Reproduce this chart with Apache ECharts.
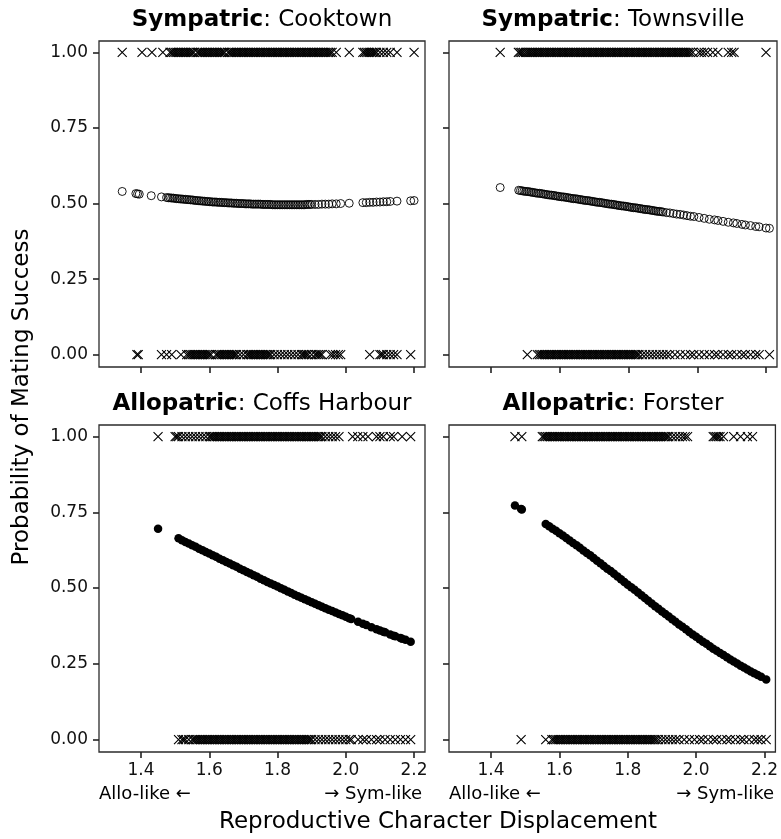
<!DOCTYPE html>
<html>
<head>
<meta charset="utf-8">
<script src="https://cdn.jsdelivr.net/npm/echarts@6/dist/echarts.min.js"></script>
<style>
html,body{margin:0;padding:0;background:#fff;}
#chart{width:781px;height:839px;}
</style>
</head>
<body>
<div id="chart"></div>
<script>
// ---------- data ----------
const xTicks = [1.4, 1.6, 1.8, 2.0, 2.2];
const yTicks = [0, 0.25, 0.5, 0.75, 1];
const titleBold = ['Sympatric', 'Sympatric', 'Allopatric', 'Allopatric'];
const titleSite = ['Cooktown', 'Townsville', 'Coffs Harbour', 'Forster'];
const xAxisTitle = 'Reproductive Character Displacement';
const yAxisTitle = 'Probability of Mating Success';
const leftNote = 'Allo-like \u2190';
const rightNote = '\u2192 Sym-like';

// Cooktown (sympatric)
const cooktownSuccess = [1.345,1.403,1.432,1.464,1.485,1.49,1.495,1.50,1.505,1.51,1.515,1.52,1.525,1.53,1.535,1.54,1.545,1.55,1.555,1.565,1.57,1.575,1.58,1.585,1.59,1.595,1.60,1.605,1.61,1.615,1.62,1.625,1.63,1.635,1.64,1.645,1.655,1.66,1.665,1.67,1.675,1.68,1.685,1.69,1.695,1.70,1.705,1.71,1.715,1.72,1.725,1.73,1.735,1.74,1.745,1.75,1.755,1.76,1.765,1.77,1.775,1.78,1.785,1.79,1.795,1.80,1.805,1.81,1.815,1.82,1.825,1.83,1.835,1.84,1.845,1.85,1.855,1.86,1.865,1.87,1.875,1.88,1.885,1.89,1.895,1.90,1.905,1.91,1.915,1.92,1.925,1.93,1.935,1.94,1.945,1.95,1.955,1.96,1.972,2.01,2.05,2.055,2.06,2.065,2.07,2.075,2.08,2.085,2.09,2.10,2.11,2.12,2.13,2.15,2.20];
const cooktownFailure = [1.388,1.392,1.46,1.475,1.49,1.517,1.534,1.54,1.545,1.55,1.555,1.56,1.565,1.57,1.575,1.58,1.585,1.59,1.595,1.60,1.605,1.62,1.625,1.63,1.635,1.64,1.645,1.65,1.655,1.66,1.665,1.67,1.675,1.68,1.69,1.70,1.71,1.715,1.72,1.725,1.73,1.735,1.74,1.745,1.75,1.755,1.76,1.765,1.77,1.775,1.78,1.79,1.80,1.81,1.82,1.83,1.84,1.85,1.86,1.87,1.875,1.88,1.885,1.89,1.90,1.91,1.915,1.92,1.925,1.93,1.955,1.962,1.97,1.978,1.985,2.07,2.10,2.105,2.11,2.12,2.13,2.14,2.15,2.19];
const cooktownFitted = [[1.345,0.540],[1.385,0.533],[1.39,0.532],[1.395,0.531],[1.43,0.526],[1.46,0.522],[1.475,0.520],
[1.480,0.519],[1.485,0.519],[1.490,0.518],[1.495,0.518],[1.500,0.517],[1.505,0.516],[1.510,0.516],[1.515,0.515],[1.520,0.515],[1.525,0.514],[1.530,0.514],[1.535,0.513],[1.540,0.513],[1.545,0.512],[1.550,0.512],[1.555,0.511],[1.560,0.510],[1.565,0.510],[1.570,0.509],[1.575,0.509],[1.580,0.508],[1.585,0.508],[1.590,0.507],[1.595,0.507],[1.600,0.506],[1.605,0.506],[1.610,0.505],[1.615,0.505],[1.620,0.505],[1.625,0.504],[1.630,0.504],[1.635,0.504],[1.640,0.503],[1.645,0.503],[1.650,0.503],[1.655,0.502],[1.660,0.502],[1.665,0.502],[1.670,0.501],[1.675,0.501],[1.680,0.501],[1.685,0.500],[1.690,0.500],[1.695,0.500],[1.700,0.500],[1.705,0.499],[1.710,0.499],[1.715,0.499],[1.720,0.499],[1.725,0.498],[1.730,0.498],[1.735,0.498],[1.740,0.498],[1.745,0.498],[1.750,0.498],[1.755,0.497],[1.760,0.497],[1.765,0.497],[1.770,0.497],[1.775,0.497],[1.780,0.497],[1.785,0.496],[1.790,0.496],[1.795,0.496],[1.800,0.496],[1.805,0.496],[1.810,0.496],[1.815,0.496],[1.820,0.496],[1.825,0.496],[1.830,0.496],[1.835,0.496],[1.840,0.496],[1.845,0.496],[1.850,0.496],[1.855,0.496],[1.860,0.496],[1.865,0.496],[1.870,0.496],[1.875,0.496],[1.880,0.496],[1.885,0.497],[1.890,0.497],[1.895,0.497],[1.900,0.497],[1.910,0.497],[1.920,0.497],[1.930,0.498],[1.940,0.498],[1.950,0.498],[1.960,0.499],
[1.972,0.499],[1.985,0.500],[2.01,0.501],[2.05,0.503],[2.06,0.503],[2.07,0.504],[2.08,0.504],[2.09,0.505],[2.10,0.505],[2.11,0.506],[2.12,0.506],[2.13,0.507],[2.15,0.508],[2.19,0.509],[2.20,0.510]];

// Townsville (sympatric)
const townsvilleSuccess = [1.426,1.479,1.484,1.489,1.494,1.50,1.505,1.51,1.515,1.52,1.525,1.53,1.535,1.54,1.545,1.55,1.555,1.56,1.565,1.57,1.575,1.58,1.585,1.59,1.595,1.60,1.605,1.61,1.615,1.62,1.625,1.63,1.635,1.64,1.645,1.65,1.655,1.66,1.665,1.67,1.675,1.68,1.685,1.69,1.695,1.70,1.705,1.71,1.715,1.72,1.725,1.73,1.735,1.74,1.745,1.75,1.755,1.76,1.765,1.77,1.775,1.78,1.785,1.79,1.795,1.80,1.805,1.81,1.815,1.82,1.825,1.83,1.835,1.84,1.845,1.85,1.855,1.86,1.865,1.87,1.875,1.88,1.885,1.89,1.895,1.90,1.905,1.91,1.915,1.92,1.925,1.93,1.935,1.94,1.945,1.95,1.955,1.96,1.965,1.97,1.975,1.98,1.987,2.004,2.012,2.02,2.03,2.045,2.06,2.09,2.10,2.107,2.20];
const townsvilleFailure = [1.505,1.534,1.54,1.545,1.55,1.555,1.56,1.565,1.57,1.575,1.58,1.585,1.59,1.595,1.60,1.605,1.61,1.615,1.62,1.625,1.63,1.635,1.64,1.645,1.65,1.655,1.66,1.665,1.67,1.675,1.68,1.685,1.69,1.695,1.70,1.705,1.71,1.715,1.72,1.725,1.73,1.735,1.74,1.745,1.75,1.755,1.76,1.765,1.77,1.775,1.78,1.785,1.79,1.795,1.80,1.805,1.81,1.815,1.82,1.825,1.83,1.84,1.85,1.86,1.87,1.88,1.89,1.90,1.91,1.92,1.935,1.95,1.965,1.98,1.99,2.005,2.02,2.035,2.05,2.06,2.075,2.09,2.10,2.115,2.13,2.14,2.155,2.17,2.18,2.21];
const townsvilleFitted = [[1.426,0.553],
[1.480,0.544],[1.485,0.543],[1.490,0.542],[1.495,0.541],[1.500,0.540],[1.505,0.540],[1.510,0.539],[1.515,0.538],[1.520,0.537],[1.525,0.536],[1.530,0.535],[1.535,0.534],[1.540,0.534],[1.545,0.533],[1.550,0.532],[1.555,0.531],[1.560,0.530],[1.565,0.529],[1.570,0.528],[1.575,0.528],[1.580,0.527],[1.585,0.526],[1.590,0.525],[1.595,0.524],[1.600,0.523],[1.605,0.522],[1.610,0.522],[1.615,0.521],[1.620,0.520],[1.625,0.519],[1.630,0.518],[1.635,0.517],[1.640,0.516],[1.645,0.516],[1.650,0.515],[1.655,0.514],[1.660,0.513],[1.665,0.512],[1.670,0.511],[1.675,0.510],[1.680,0.510],[1.685,0.509],[1.690,0.508],[1.695,0.507],[1.700,0.506],[1.705,0.505],[1.710,0.504],[1.715,0.504],[1.720,0.503],[1.725,0.502],[1.730,0.501],[1.735,0.500],[1.740,0.499],[1.745,0.498],[1.750,0.498],[1.755,0.497],[1.760,0.496],[1.765,0.495],[1.770,0.494],[1.775,0.493],[1.780,0.492],[1.785,0.492],[1.790,0.491],[1.795,0.490],[1.800,0.489],[1.805,0.488],[1.810,0.487],[1.815,0.486],[1.820,0.486],[1.825,0.485],[1.830,0.484],[1.835,0.483],[1.840,0.482],[1.845,0.481],[1.850,0.480],[1.855,0.480],[1.860,0.479],[1.865,0.478],[1.870,0.477],[1.875,0.476],[1.880,0.475],[1.885,0.474],[1.890,0.474],[1.895,0.473],[1.900,0.472],
[1.91,0.470],[1.92,0.469],[1.93,0.467],[1.94,0.465],[1.95,0.464],[1.96,0.462],[1.97,0.460],[1.98,0.458],[1.99,0.457],[2.005,0.454],[2.02,0.451],[2.035,0.448],[2.05,0.446],[2.06,0.444],[2.075,0.441],[2.09,0.438],[2.105,0.436],[2.115,0.434],[2.13,0.431],[2.14,0.429],[2.155,0.427],[2.17,0.424],[2.18,0.423],[2.20,0.419],[2.21,0.418]];

// Coffs Harbour (allopatric)
const coffsSuccess = [1.45,1.50,1.505,1.51,1.52,1.53,1.54,1.55,1.56,1.57,1.58,1.59,1.60,1.605,1.61,1.615,1.62,1.625,1.63,1.635,1.64,1.645,1.65,1.655,1.66,1.665,1.67,1.675,1.68,1.685,1.69,1.695,1.70,1.705,1.71,1.715,1.72,1.725,1.73,1.735,1.74,1.745,1.75,1.755,1.76,1.765,1.77,1.775,1.78,1.785,1.79,1.795,1.80,1.805,1.81,1.815,1.82,1.825,1.83,1.835,1.84,1.845,1.85,1.855,1.86,1.865,1.87,1.875,1.88,1.885,1.89,1.895,1.90,1.905,1.91,1.915,1.92,1.925,1.93,1.94,1.95,1.96,1.97,1.98,2.02,2.035,2.05,2.065,2.09,2.10,2.11,2.13,2.14,2.165,2.19];
const coffsFailure = [1.51,1.52,1.525,1.53,1.54,1.55,1.555,1.56,1.565,1.57,1.575,1.58,1.585,1.59,1.595,1.60,1.605,1.61,1.615,1.62,1.625,1.63,1.635,1.64,1.645,1.65,1.655,1.66,1.665,1.67,1.675,1.68,1.685,1.69,1.695,1.70,1.705,1.71,1.715,1.72,1.725,1.73,1.735,1.74,1.745,1.75,1.755,1.76,1.765,1.77,1.775,1.78,1.785,1.79,1.795,1.80,1.805,1.81,1.815,1.82,1.825,1.83,1.835,1.84,1.845,1.85,1.855,1.86,1.865,1.87,1.875,1.88,1.885,1.89,1.895,1.90,1.91,1.92,1.93,1.94,1.95,1.96,1.97,1.98,1.99,2.00,2.01,2.016,2.036,2.05,2.06,2.075,2.09,2.10,2.115,2.13,2.145,2.16,2.175,2.19];
const coffsFitted = [[1.45,0.696],[1.51,0.664],[1.52,0.658],[1.53,0.652],[1.54,0.647],[1.55,0.641],[1.56,0.636],[1.57,0.630],[1.58,0.625],[1.59,0.619],[1.60,0.614],[1.61,0.608],[1.62,0.603],[1.63,0.597],[1.64,0.592],[1.65,0.586],[1.66,0.581],[1.67,0.575],[1.68,0.570],[1.69,0.564],[1.70,0.559],[1.71,0.553],[1.72,0.548],[1.73,0.542],[1.74,0.537],[1.75,0.531],[1.76,0.526],[1.77,0.520],[1.78,0.515],[1.79,0.510],[1.80,0.505],[1.81,0.499],[1.82,0.494],[1.83,0.489],[1.84,0.484],[1.85,0.478],[1.86,0.473],[1.87,0.468],[1.88,0.463],[1.89,0.458],[1.90,0.453],[1.91,0.448],[1.92,0.443],[1.93,0.438],[1.94,0.433],[1.95,0.428],[1.96,0.424],[1.97,0.419],[1.98,0.414],[1.99,0.410],[2.00,0.405],[2.01,0.400],[2.016,0.398],[2.036,0.389],[2.05,0.382],[2.06,0.378],[2.075,0.371],[2.09,0.364],[2.10,0.360],[2.11,0.356],[2.115,0.354],[2.13,0.347],[2.14,0.343],[2.145,0.341],[2.16,0.335],[2.165,0.333],[2.175,0.329],[2.19,0.323]];

// Forster (allopatric)
const forsterSuccess = [1.47,1.49,1.55,1.555,1.56,1.565,1.57,1.575,1.58,1.585,1.59,1.595,1.60,1.605,1.61,1.615,1.62,1.625,1.63,1.635,1.64,1.645,1.65,1.655,1.66,1.665,1.67,1.675,1.68,1.685,1.69,1.695,1.70,1.705,1.71,1.715,1.72,1.725,1.73,1.735,1.74,1.745,1.75,1.755,1.76,1.765,1.77,1.775,1.78,1.785,1.79,1.795,1.80,1.805,1.81,1.815,1.82,1.825,1.83,1.835,1.84,1.845,1.85,1.855,1.86,1.865,1.87,1.875,1.88,1.885,1.89,1.895,1.90,1.905,1.91,1.915,1.92,1.93,1.94,1.95,1.96,1.968,1.975,2.05,2.055,2.06,2.065,2.07,2.08,2.11,2.13,2.15,2.165];
const forsterFailure = [1.488,1.56,1.578,1.583,1.588,1.593,1.598,1.603,1.608,1.613,1.618,1.623,1.628,1.633,1.638,1.643,1.648,1.653,1.658,1.663,1.668,1.673,1.678,1.683,1.688,1.693,1.698,1.703,1.708,1.713,1.718,1.723,1.728,1.733,1.738,1.743,1.748,1.753,1.758,1.763,1.768,1.773,1.778,1.783,1.788,1.793,1.798,1.803,1.808,1.813,1.818,1.823,1.828,1.833,1.838,1.843,1.848,1.853,1.858,1.863,1.868,1.873,1.878,1.883,1.89,1.90,1.91,1.92,1.93,1.94,1.95,1.965,1.98,1.995,2.01,2.02,2.035,2.05,2.06,2.075,2.09,2.10,2.115,2.13,2.14,2.155,2.17,2.18,2.19,2.205];
const forsterFitted = [[1.47,0.772],[1.488,0.761],[1.49,0.759],[1.56,0.711],[1.57,0.704],[1.58,0.696],[1.59,0.689],[1.60,0.681],[1.61,0.673],[1.62,0.665],[1.63,0.657],[1.64,0.649],[1.65,0.641],[1.66,0.633],[1.67,0.624],[1.68,0.616],[1.69,0.608],[1.70,0.599],[1.71,0.590],[1.72,0.582],[1.73,0.573],[1.74,0.564],[1.75,0.556],[1.76,0.547],[1.77,0.538],[1.78,0.529],[1.79,0.520],[1.80,0.511],[1.81,0.503],[1.82,0.494],[1.83,0.485],[1.84,0.476],[1.85,0.467],[1.86,0.458],[1.87,0.449],[1.88,0.440],[1.89,0.432],[1.90,0.423],[1.91,0.414],[1.92,0.406],[1.93,0.397],[1.94,0.389],[1.95,0.380],[1.96,0.372],[1.97,0.364],[1.98,0.355],[1.99,0.347],[2.00,0.339],[2.01,0.331],[2.02,0.323],[2.03,0.316],[2.04,0.308],[2.05,0.300],[2.06,0.293],[2.07,0.286],[2.08,0.279],[2.09,0.272],[2.10,0.264],[2.11,0.258],[2.12,0.251],[2.13,0.244],[2.14,0.238],[2.15,0.231],[2.16,0.225],[2.17,0.219],[2.18,0.213],[2.19,0.207],[2.205,0.198]];

const panelSuccess = [cooktownSuccess, townsvilleSuccess, coffsSuccess, forsterSuccess];
const panelFailure = [cooktownFailure, townsvilleFailure, coffsFailure, forsterFailure];
const panelFitted = [cooktownFitted, townsvilleFitted, coffsFitted, forsterFitted];
const fittedFilled = [false, false, true, true];

// ---------- layout / style ----------
const FONT = '"DejaVu Sans", "Liberation Sans", Arial, sans-serif';
const grids = [
  {left: 99, top: 41, width: 326, height: 326},
  {left: 449, top: 41, width: 328, height: 326},
  {left: 99, top: 425, width: 326, height: 327},
  {left: 449, top: 425, width: 328, height: 327}
];
const X_MIN = 1.277, X_MAX = 2.232;
const Y_MIN = -0.041, Y_MAX = 1.038;
const CROSS = 'path://M0,0L10,10M10,0L0,10';

const option = {
  animation: false,
  backgroundColor: '#fff',
  grid: grids.map(g => Object.assign({show: true, borderColor: '#2b2b2b', borderWidth: 1.3, backgroundColor: '#fff', containLabel: false}, g)),
  xAxis: grids.map((g, i) => ({
    gridIndex: i, type: 'value', min: X_MIN, max: X_MAX,
    axisLine: {show: false, onZero: false},
    splitLine: {show: false},
    axisTick: {show: true, customValues: xTicks, length: 6, lineStyle: {color: '#222', width: 1.6}},
    axisLabel: {show: i >= 2, customValues: xTicks, formatter: v => v.toFixed(1), fontSize: 17, color: '#111', margin: 10, fontFamily: FONT}
  })),
  yAxis: grids.map((g, i) => ({
    gridIndex: i, type: 'value', min: Y_MIN, max: Y_MAX,
    axisLine: {show: false, onZero: false},
    splitLine: {show: false},
    axisTick: {show: true, customValues: yTicks, length: 6, lineStyle: {color: '#222', width: 1.6}},
    axisLabel: {show: i % 2 === 0, customValues: yTicks, formatter: v => v.toFixed(2), fontSize: 17, color: '#111', margin: 11, fontFamily: FONT}
  })),
  series: [],
  graphic: []
};

for (let i = 0; i < 4; i++) {
  const crossStyle = {color: 'rgba(0,0,0,0)', borderColor: '#000', borderWidth: 1.1, opacity: 1};
  option.series.push({
    type: 'scatter', xAxisIndex: i, yAxisIndex: i, symbol: CROSS, symbolSize: 9,
    itemStyle: crossStyle, emphasis: {disabled: true}, silent: true,
    data: panelSuccess[i].map(x => [x, 1])
  });
  option.series.push({
    type: 'scatter', xAxisIndex: i, yAxisIndex: i, symbol: CROSS, symbolSize: 9,
    itemStyle: crossStyle, emphasis: {disabled: true}, silent: true,
    data: panelFailure[i].map(x => [x, 0])
  });
  option.series.push({
    type: 'scatter', xAxisIndex: i, yAxisIndex: i, symbol: 'circle',
    symbolSize: fittedFilled[i] ? 8.5 : 8,
    itemStyle: fittedFilled[i] ? {color: '#000', opacity: 1} : {color: 'rgba(0,0,0,0)', borderColor: '#000', borderWidth: 0.9, opacity: 1},
    emphasis: {disabled: true}, silent: true,
    data: panelFitted[i]
  });
  const g = grids[i];
  const cx = g.left + g.width / 2;
  option.graphic.push({
    type: 'text', x: cx, y: g.top - 21,
    style: {
      text: '{b|' + titleBold[i] + '}: ' + titleSite[i],
      font: '23px ' + FONT, fill: '#000', align: 'center', verticalAlign: 'middle',
      rich: {b: {fontWeight: 'bold', fontSize: 23, fontFamily: FONT, fill: '#000'}}
    }
  });
  if (i >= 2) {
    option.graphic.push({
      type: 'text', x: g.left, y: 794,
      style: {text: leftNote, font: '18px ' + FONT, fill: '#000', align: 'left', verticalAlign: 'middle'}
    });
    option.graphic.push({
      type: 'text', x: g.left + g.width - 3, y: 794,
      style: {text: rightNote, font: '18px ' + FONT, fill: '#000', align: 'right', verticalAlign: 'middle'}
    });
  }
}
option.graphic.push({
  type: 'text', x: 438, y: 822,
  style: {text: xAxisTitle, font: '23px ' + FONT, fill: '#000', align: 'center', verticalAlign: 'middle'}
});
option.graphic.push({
  type: 'text', x: 22, y: 397, rotation: Math.PI / 2,
  style: {text: yAxisTitle, font: '23px ' + FONT, fill: '#000', align: 'center', verticalAlign: 'middle'}
});

const chart = echarts.init(document.getElementById('chart'), null, {renderer: 'canvas'});
chart.setOption(option);
</script>
</body>
</html>
